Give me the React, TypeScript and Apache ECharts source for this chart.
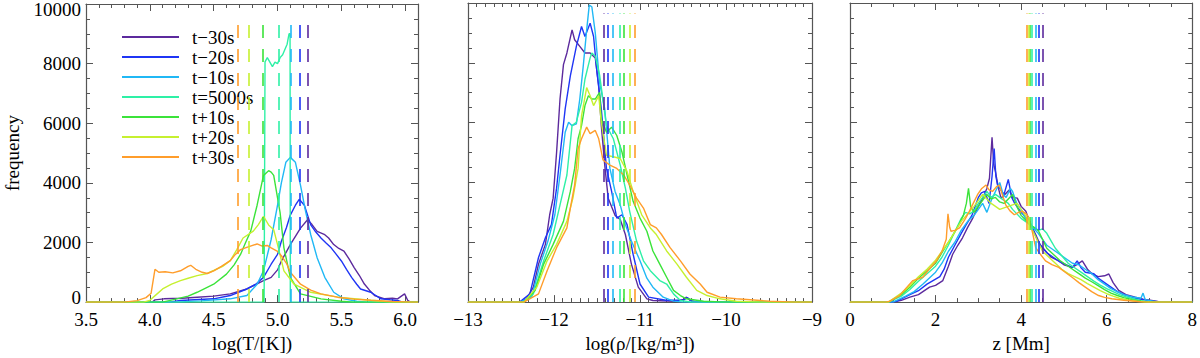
import React, { useEffect, useRef } from 'react';
import * as echarts from 'echarts';

const NAMES = ['t\u221230s', 't\u221220s', 't\u221210s', 't=5000s', 't+10s', 't+20s', 't+30s'];
const COLORS = ['#5c2a9d', '#1f35f5', '#20b8f5', '#2ef0a6', '#3be33a', '#c6f030', '#ff9d2b'];

// Panel 1: log(T/[K])
const tM30 = [[3.5,0],[4.02,0],[4.04,75],[4.11,110],[4.25,130],[4.37,165],[4.5,200],[4.63,275],[4.76,440],[4.89,720],[4.95,830],[5.0,1080],[5.03,1380],[5.1,1930],[5.18,2480],[5.235,2760],[5.27,2600],[5.31,2370],[5.37,2260],[5.4,2150],[5.44,1930],[5.48,1800],[5.52,1710],[5.56,1450],[5.6,1160],[5.64,900],[5.68,605],[5.72,400],[5.76,220],[5.84,110],[5.9,130],[5.94,110],[5.97,200],[5.995,275],[6.02,55],[6.04,0],[6.1,0]];
const tM20 = [[3.5,0],[4.15,0],[4.24,55],[4.35,80],[4.5,110],[4.63,220],[4.76,440],[4.83,600],[4.89,830],[4.95,1270],[5.0,1600],[5.03,2040],[5.07,2500],[5.1,2920],[5.14,3250],[5.17,3450],[5.21,3250],[5.26,2590],[5.3,2350],[5.34,2150],[5.38,1980],[5.42,1820],[5.46,1600],[5.5,1380],[5.54,1100],[5.58,830],[5.62,600],[5.65,440],[5.73,330],[5.81,110],[5.88,80],[5.94,55],[5.98,0],[6.1,0]];
const tM10 = [[3.5,0],[4.2,0],[4.4,40],[4.63,110],[4.76,220],[4.84,600],[4.89,1050],[4.95,2100],[5.0,3250],[5.03,4000],[5.065,4690],[5.1,4855],[5.14,4690],[5.18,3915],[5.22,3035],[5.26,2260],[5.31,1490],[5.37,830],[5.44,330],[5.52,110],[5.62,30],[5.7,0],[6.1,0]];
const t5000 = [[3.5,0],[4.895,0],[4.902,8060],[4.92,8200],[4.94,8050],[4.96,7900],[4.98,8050],[5.0,8000],[5.02,8200],[5.04,8300],[5.06,8500],[5.075,8650],[5.09,9000],[5.098,9000],[5.1,0],[6.1,0]];
const tP10 = [[3.5,0],[4.1,0],[4.16,60],[4.3,200],[4.37,330],[4.5,600],[4.6,940],[4.66,1250],[4.71,1600],[4.75,2000],[4.79,2380],[4.84,3250],[4.89,4250],[4.93,4410],[4.95,4360],[4.97,4250],[5.0,3500],[5.02,3000],[5.05,1820],[5.1,830],[5.18,275],[5.34,110],[5.5,30],[5.6,0],[6.1,0]];
const tP20 = [[3.5,0],[3.95,0],[4.0,60],[4.05,250],[4.1,440],[4.17,600],[4.24,720],[4.3,800],[4.37,890],[4.44,950],[4.5,1060],[4.57,1200],[4.63,1390],[4.68,1750],[4.73,2150],[4.81,2380],[4.85,2600],[4.89,2880],[4.93,2590],[4.97,2430],[5.0,1930],[5.05,1050],[5.13,600],[5.26,330],[5.47,165],[5.73,60],[5.9,0],[6.1,0]];
const tP30 = [[3.5,0],[3.8,0],[3.9,50],[3.97,150],[4.01,300],[4.04,1100],[4.07,1000],[4.12,1020],[4.18,980],[4.24,1050],[4.3,1200],[4.32,1235],[4.36,1100],[4.41,1000],[4.45,960],[4.5,1050],[4.56,1200],[4.63,1390],[4.67,1600],[4.71,1760],[4.77,1850],[4.84,1950],[4.88,1880],[4.92,1900],[4.95,1820],[5.0,1700],[5.03,1555],[5.07,1300],[5.1,1000],[5.18,600],[5.26,400],[5.34,275],[5.47,165],[5.6,100],[5.73,60],[5.9,20],[6.05,0],[6.1,0]];
const tMeans = [5.237, 5.177, 5.1, 5.01, 4.886, 4.776, 4.69];

// Panel 2: log(rho/[kg/m^3])
const rM30 = [[-13,0],[-12.4,0],[-12.32,110],[-12.24,500],[-12.18,1270],[-12.1,1930],[-12.05,2920],[-12.01,3475],[-11.97,5000],[-11.93,6790],[-11.89,7940],[-11.85,8330],[-11.79,9100],[-11.76,8770],[-11.7,8550],[-11.64,8330],[-11.58,8330],[-11.52,8165],[-11.48,7230],[-11.45,5900],[-11.41,4580],[-11.37,3475],[-11.29,2900],[-11.23,2760],[-11.17,2260],[-11.1,1270],[-11.02,500],[-10.92,110],[-10.85,55],[-10.6,30],[-10.5,80],[-10.46,165],[-10.42,60],[-10.35,0],[-9,0]];
const rM20 = [[-13,0],[-12.4,0],[-12.28,275],[-12.18,1490],[-12.1,2150],[-12.03,2590],[-11.97,3810],[-11.93,4910],[-11.87,6460],[-11.81,7560],[-11.74,8550],[-11.68,9215],[-11.64,8880],[-11.58,9325],[-11.54,8880],[-11.5,7670],[-11.45,6460],[-11.39,4470],[-11.33,3700],[-11.27,2810],[-11.21,2920],[-11.15,2590],[-11.08,1600],[-11.0,605],[-10.9,165],[-10.7,60],[-10.5,60],[-10.45,150],[-10.4,40],[-10.3,0],[-9,0]];
const rM10 = [[-13,0],[-12.4,0],[-12.26,165],[-12.16,1270],[-12.07,2040],[-11.99,2920],[-11.93,4250],[-11.87,5680],[-11.83,6015],[-11.79,5900],[-11.74,5960],[-11.7,6790],[-11.66,7890],[-11.62,9100],[-11.59,9930],[-11.56,9875],[-11.52,9000],[-11.47,7340],[-11.41,6460],[-11.35,4470],[-11.29,3700],[-11.23,3250],[-11.17,2590],[-11.1,2040],[-11.0,1380],[-10.92,800],[-10.85,500],[-10.73,165],[-10.61,33],[-10.5,0],[-9,0]];
const r5000 = [[-13,0],[-12.35,0],[-12.24,275],[-12.12,1380],[-12.01,2260],[-11.93,3250],[-11.85,4250],[-11.79,5900],[-11.74,6015],[-11.68,6680],[-11.64,7450],[-11.58,8165],[-11.56,8330],[-11.52,8220],[-11.47,7600],[-11.39,5900],[-11.31,5460],[-11.23,4580],[-11.17,3810],[-11.12,3035],[-11.04,2040],[-10.96,1380],[-10.88,1050],[-10.77,720],[-10.69,605],[-10.61,275],[-10.53,55],[-10.4,0],[-9,0]];
const rP10 = [[-13,0],[-12.35,0],[-12.22,390],[-12.12,1270],[-12.01,1930],[-11.89,2700],[-11.81,3700],[-11.76,4470],[-11.72,5460],[-11.68,5900],[-11.64,6570],[-11.6,6900],[-11.56,6790],[-11.52,6790],[-11.47,7010],[-11.45,6120],[-11.39,5680],[-11.33,5850],[-11.27,5570],[-11.21,5020],[-11.15,4250],[-11.08,3370],[-11.0,2810],[-10.92,2370],[-10.85,1710],[-10.77,1270],[-10.69,830],[-10.61,390],[-10.53,220],[-10.46,110],[-10.26,30],[-10.0,0],[-9,0]];
const rP20 = [[-13,0],[-12.35,0],[-12.2,500],[-12.08,1380],[-11.97,1930],[-11.85,2700],[-11.78,3475],[-11.72,4470],[-11.68,6230],[-11.62,7170],[-11.58,6900],[-11.54,6570],[-11.48,6900],[-11.45,6015],[-11.39,4910],[-11.31,4860],[-11.23,4800],[-11.15,4360],[-11.08,3700],[-10.98,2920],[-10.88,2480],[-10.81,2260],[-10.69,1710],[-10.57,1270],[-10.46,830],[-10.34,390],[-10.22,220],[-10.07,110],[-9.88,30],[-9.6,0],[-9,0]];
const rP30 = [[-13,0],[-12.35,0],[-12.18,275],[-12.08,1050],[-11.97,1820],[-11.85,2480],[-11.81,3145],[-11.76,3915],[-11.72,5130],[-11.68,5460],[-11.62,5850],[-11.58,5630],[-11.52,5740],[-11.48,5460],[-11.43,4750],[-11.35,4580],[-11.27,4470],[-11.19,4250],[-11.12,3915],[-11.04,3475],[-10.96,3145],[-10.88,2590],[-10.81,2480],[-10.75,2260],[-10.65,1820],[-10.53,1380],[-10.42,940],[-10.3,605],[-10.22,330],[-10.07,165],[-9.88,110],[-9.49,30],[-9.2,0],[-9,0]];
const rMeans = [-11.427, -11.38, -11.317, -11.24, -11.186, -11.124, -11.06];

// Panel 3: z [Mm]
const zM30 = [[0,0],[1.0,0],[1.2,60],[1.4,165],[1.6,250],[1.86,500],[2.0,560],[2.17,720],[2.3,1200],[2.4,1600],[2.52,1900],[2.63,2150],[2.75,2500],[2.87,2810],[3.0,3200],[3.1,3475],[3.2,3800],[3.26,4140],[3.32,5510],[3.36,4600],[3.4,4360],[3.47,3800],[3.53,3475],[3.62,3600],[3.72,3750],[3.8,3500],[3.91,3475],[4.0,3200],[4.11,3035],[4.22,2600],[4.34,2260],[4.45,1900],[4.57,1710],[4.7,1500],[4.88,1380],[5.0,1250],[5.19,1160],[5.3,1250],[5.43,1380],[5.55,1100],[5.66,940],[5.8,850],[5.95,880],[6.05,940],[6.15,650],[6.28,390],[6.45,250],[6.67,165],[6.85,100],[7.05,55],[7.28,0],[8,0]];
const zM20 = [[0,0],[0.95,0],[1.1,30],[1.4,250],[1.6,380],[1.8,600],[2.1,850],[2.2,1100],[2.3,1500],[2.45,1900],[2.6,2300],[2.72,2600],[2.85,2900],[3.0,3500],[3.07,3650],[3.15,3700],[3.25,3300],[3.32,4200],[3.37,5130],[3.41,4200],[3.45,3900],[3.6,3600],[3.7,4100],[3.78,3500],[3.85,3300],[4.0,3000],[4.2,2700],[4.4,2000],[4.6,1650],[4.75,1500],[4.9,1350],[5.05,1250],[5.2,1150],[5.31,1380],[5.4,1150],[5.5,1000],[5.7,950],[5.8,800],[5.9,700],[6.1,500],[6.25,350],[6.4,250],[6.7,120],[7.0,50],[7.3,0],[8,0]];
const zM10 = [[0,0],[1.0,0],[1.3,200],[1.5,350],[1.7,600],[2.0,1000],[2.15,1300],[2.3,1700],[2.45,2000],[2.6,2400],[2.75,2700],[2.9,2900],[3.0,3100],[3.1,3300],[3.2,3000],[3.3,3400],[3.4,3700],[3.5,4000],[3.58,3600],[3.65,3500],[3.75,3800],[3.8,3700],[3.9,3300],[4.0,3100],[4.1,2800],[4.2,2600],[4.3,2450],[4.4,2300],[4.5,2100],[4.6,1900],[4.75,1750],[4.9,1600],[5.05,1450],[5.2,1300],[5.35,1250],[5.5,1100],[5.65,950],[5.8,750],[5.95,600],[6.1,450],[6.25,350],[6.4,250],[6.6,170],[6.8,130],[6.85,300],[6.9,80],[7.2,0],[8,0]];
const z5000 = [[0,0],[0.9,0],[1.2,200],[1.4,420],[1.6,700],[1.8,950],[2.0,1200],[2.15,1500],[2.3,1900],[2.45,2350],[2.6,2800],[2.7,3000],[2.8,2950],[2.9,3050],[3.0,3300],[3.1,3500],[3.2,3700],[3.3,3500],[3.4,3600],[3.5,3500],[3.6,3400],[3.7,3300],[3.8,3100],[3.9,2950],[4.0,2800],[4.1,2700],[4.2,2600],[4.3,2500],[4.4,2400],[4.5,2450],[4.6,2300],[4.7,2050],[4.8,1800],[4.95,1550],[5.1,1300],[5.25,1150],[5.4,1000],[5.55,850],[5.7,700],[5.85,570],[6.0,450],[6.15,350],[6.3,250],[6.45,180],[6.6,120],[6.8,50],[7.0,0],[8,0]];
const zP10 = [[0,0],[0.9,0],[1.2,250],[1.4,500],[1.6,800],[1.8,1050],[2.0,1300],[2.15,1650],[2.3,2000],[2.45,2350],[2.55,2600],[2.65,2900],[2.72,3300],[2.77,3800],[2.82,3200],[2.9,3000],[3.0,3200],[3.1,3400],[3.2,3600],[3.3,3450],[3.4,3500],[3.5,3350],[3.6,3300],[3.7,3450],[3.8,3600],[3.9,3200],[4.0,2900],[4.1,2750],[4.2,2600],[4.3,2500],[4.4,2400],[4.5,2100],[4.6,1800],[4.75,1600],[4.9,1400],[5.05,1250],[5.2,1100],[5.35,950],[5.5,800],[5.65,680],[5.8,550],[5.95,420],[6.1,300],[6.25,220],[6.4,150],[6.6,80],[6.8,30],[7.0,0],[8,0]];
const zP20 = [[0,0],[0.9,0],[1.2,300],[1.4,550],[1.6,850],[1.8,1100],[2.0,1400],[2.15,1700],[2.3,2000],[2.45,2350],[2.6,2700],[2.75,2950],[2.9,3200],[3.0,3400],[3.1,3600],[3.2,3450],[3.3,3300],[3.4,3200],[3.5,3100],[3.6,3150],[3.7,3200],[3.8,3250],[3.9,3300],[4.0,3100],[4.1,2900],[4.2,2600],[4.3,2300],[4.4,2000],[4.5,1700],[4.65,1500],[4.8,1300],[4.95,1100],[5.1,950],[5.25,850],[5.4,750],[5.55,620],[5.7,500],[5.85,380],[6.0,280],[6.15,200],[6.3,130],[6.5,70],[6.7,30],[6.9,0],[8,0]];
const zP30 = [[0,0],[0.85,0],[0.93,30],[1.16,220],[1.3,450],[1.47,720],[1.6,780],[1.7,830],[1.85,1100],[2.02,1380],[2.15,1700],[2.25,2100],[2.29,2950],[2.33,2500],[2.36,2370],[2.45,2400],[2.56,2480],[2.68,2750],[2.79,3035],[2.88,3300],[2.98,3590],[3.08,3800],[3.18,3915],[3.25,3750],[3.33,3700],[3.42,3850],[3.49,3915],[3.56,3600],[3.64,3250],[3.74,3050],[3.84,2920],[3.94,3000],[4.03,3035],[4.12,2950],[4.19,2810],[4.27,2300],[4.34,1820],[4.45,1600],[4.57,1380],[4.72,1250],[4.88,1160],[5.03,1000],[5.19,830],[5.35,650],[5.5,500],[5.65,350],[5.81,220],[5.95,160],[6.12,110],[6.4,60],[6.67,30],[6.9,0],[8,0]];
const zMeans = [4.5, 4.42, 4.34, 4.26, 4.21, 4.17, 4.13];

const Y_TICKS_MAX = 10000;

const FONT = "'Liberation Serif', 'DejaVu Serif', serif";
const AXIS_COLOR = '#555';

function fmtMinus(v: number, digits: number) {
  const s = Math.abs(v).toFixed(digits);
  return v < 0 ? '\u2212' + s : s;
}

export default function App() {
  const ref = useRef<HTMLDivElement>(null);
  useEffect(() => {
    if (!ref.current) return;
    const chart = echarts.init(ref.current, null, { renderer: 'svg' });

    const panels = [
      { data: [tM30, tM20, tM10, t5000, tP10, tP20, tP30], means: tMeans, min: 3.5, max: 6.1, interval: 0.5, minor: 5, name: 'log(T/[K])', left: 86, width: 332,
        fmt: (v: number) => (Math.abs(v * 2 - Math.round(v * 2)) < 1e-6 ? v.toFixed(1) : '') },
      { data: [rM30, rM20, rM10, r5000, rP10, rP20, rP30], means: rMeans, min: -13, max: -9, interval: 1, minor: 10, name: 'log(\u03c1/[kg/m\u00b3])', left: 468, width: 344,
        fmt: (v: number) => fmtMinus(v, 0) },
      { data: [zM30, zM20, zM10, z5000, zP10, zP20, zP30], means: zMeans, min: 0, max: 8, interval: 2, minor: 4, name: 'z [Mm]', left: 850, width: 344,
        fmt: (v: number) => String(v) },
    ];

    const grid: any[] = [];
    const xAxis: any[] = [];
    const yAxis: any[] = [];
    const series: any[] = [];

    const tickCommon = {
      axisTick: { show: true, inside: true, length: 7, lineStyle: { color: AXIS_COLOR, width: 1 } },
      minorTick: { show: true, length: 4, lineStyle: { color: AXIS_COLOR, width: 1 } },
      splitLine: { show: false },
      minorSplitLine: { show: false },
      axisLine: { show: true, onZero: false, lineStyle: { color: AXIS_COLOR, width: 1.2 } },
    };

    panels.forEach((p, gi) => {
      grid.push({ left: p.left, top: 3, width: p.width, height: 302, containLabel: false });
      xAxis.push({
        type: 'value', gridIndex: gi, position: 'bottom', min: p.min, max: p.max, interval: p.interval,
        ...tickCommon,
        minorTick: { ...tickCommon.minorTick, splitNumber: p.minor },
        axisLabel: { show: true, formatter: p.fmt, color: '#000', fontFamily: FONT, fontSize: 19, margin: 8 },
        name: p.name, nameLocation: 'middle', nameGap: 30,
        nameTextStyle: { color: '#000', fontFamily: FONT, fontSize: 19 },
      });
      xAxis.push({
        type: 'value', gridIndex: gi, position: 'top', min: p.min, max: p.max, interval: p.interval,
        ...tickCommon,
        minorTick: { ...tickCommon.minorTick, splitNumber: p.minor },
        axisLabel: { show: false },
      });
      yAxis.push({
        type: 'value', gridIndex: gi, position: 'left', min: 0, max: Y_TICKS_MAX, interval: 2000,
        ...tickCommon,
        minorTick: { ...tickCommon.minorTick, splitNumber: 4 },
        axisLabel: gi === 0 ? {
          show: true, color: '#000', fontFamily: FONT, fontSize: 19, margin: 5,
          formatter: (v: number) => (v === 10000 ? '{t|10000}' : v === 0 ? '{b|0}' : String(v)),
          rich: {
            t: { fontFamily: FONT, fontSize: 19, color: '#000', padding: [11, 0, 0, 0] },
            b: { fontFamily: FONT, fontSize: 19, color: '#000', padding: [0, 0, 10, 0] },
          },
        } : { show: false },
        name: gi === 0 ? 'frequency' : '', nameLocation: 'middle', nameGap: 64, nameRotate: 90,
        nameTextStyle: { color: '#000', fontFamily: FONT, fontSize: 19 },
      });
      yAxis.push({
        type: 'value', gridIndex: gi, position: 'right', min: 0, max: Y_TICKS_MAX, interval: 2000,
        ...tickCommon,
        minorTick: { ...tickCommon.minorTick, splitNumber: 4 },
        axisLabel: { show: false },
      });

      p.data.forEach((d, si) => {
        series.push({
          type: 'line', name: NAMES[si], xAxisIndex: gi * 2, yAxisIndex: gi * 2,
          data: d, showSymbol: false, symbol: 'none', clip: true,
          lineStyle: { color: COLORS[si], width: 1.4 },
          itemStyle: { color: COLORS[si] },
          emphasis: { disabled: true },
          markLine: {
            silent: true, symbol: ['none', 'none'], label: { show: false },
            lineStyle: { type: [13, 11], width: 1.6, color: COLORS[si] },
            emphasis: { disabled: true },
            data: [[{ coord: [p.means[si], 0] }, { coord: [p.means[si], 9650] }]],
          },
        });
      });
    });

    chart.setOption({
      animation: false,
      backgroundColor: '#fff',
      grid, xAxis, yAxis, series,
      legend: {
        data: NAMES, orient: 'vertical', left: 117, top: 22,
        icon: 'rect', itemWidth: 57, itemHeight: 2, itemGap: 0,
        textStyle: { fontFamily: FONT, fontSize: 19, color: '#000', lineHeight: 20, padding: [0, 0, 0, 8] },
        selectedMode: false,
      },
    });
    return () => chart.dispose();
  }, []);
  return <div ref={ref} style={{ position: 'absolute', left: 0, top: 0, width: 1200, height: 358 }} />;
}
